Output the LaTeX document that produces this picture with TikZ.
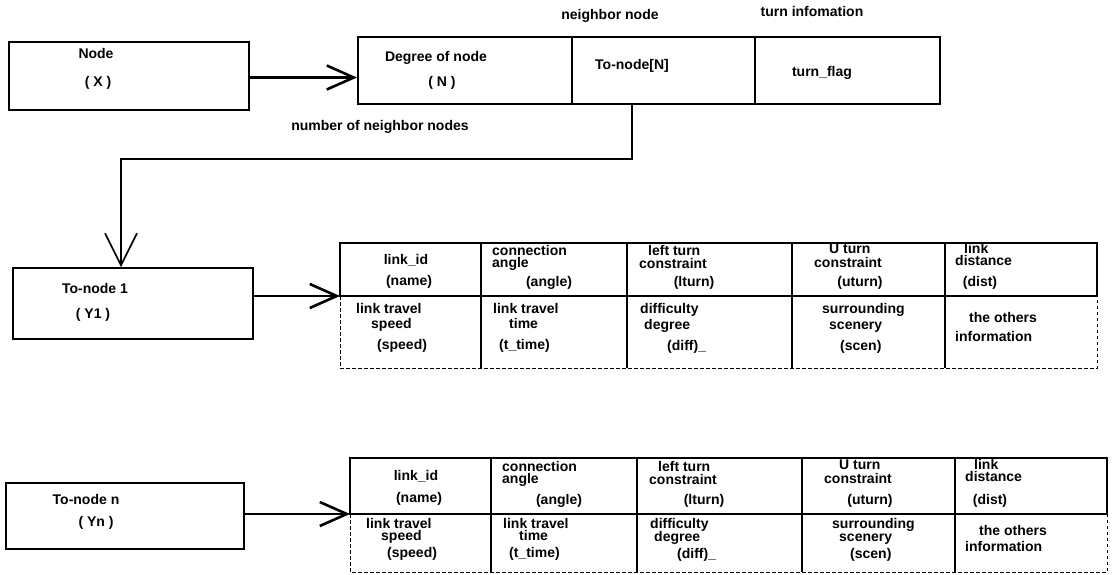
\documentclass[tikz,border=0pt]{standalone}
\usepackage{fontspec}
\setmainfont{Liberation Sans}
\usetikzlibrary{arrows.meta,calc}
\newcommand\LinkTable[5]{%
  % #1 name, #2 left x, #3 top, #4 middle line, #5 bottom
  \pgfmathsetmacro\tbA{#2}\pgfmathsetmacro\tbB{#2+141}%
  \pgfmathsetmacro\tbC{#2+287}\pgfmathsetmacro\tbD{#2+452}%
  \pgfmathsetmacro\tbE{#2+605}\pgfmathsetmacro\tbR{#2+757}%
  \pgfmathsetmacro\tbT{#4-#3}\pgfmathsetmacro\tbH{#5-#4}%
  \coordinate (#1-in) at (\tbA,#4);
  \draw[solidline] (\tbA,#3) rectangle (\tbR,#4);
  \foreach \cx in {\tbB,\tbC,\tbD,\tbE} {\draw[solidline] (\cx,#3) -- (\cx,#5);}
  \draw[dashline] (\tbA,#4) -- (\tbA,#5) -- (\tbR,#5) -- (\tbR,#4);
  \node[ct] (#1-a1) at (\tbA+66,#3+0.36*\tbT) {link\_id};
  \node[ct] (#1-a2) at (\tbA+69,#3+0.755*\tbT) {(name)};
  \node[lt] (#1-b1) at (\tbB+11,#3+0.19*\tbT) {connection};
  \node[lt] (#1-b2) at (\tbB+11,#3+0.415*\tbT) {angle};
  \node[ct] (#1-b3) at (\tbB+68,#3+0.775*\tbT) {(angle)};
  \node[lt] (#1-c1) at (\tbC+21,#3+0.19*\tbT) {left turn};
  \node[lt] (#1-c2) at (\tbC+12,#3+0.43*\tbT) {constraint};
  \node[ct] (#1-c3) at (\tbC+67,#3+0.775*\tbT) {(lturn)};
  \node[lt] (#1-d1) at (\tbD+37,#3+0.155*\tbT) {U turn};
  \node[lt] (#1-d2) at (\tbD+22,#3+0.405*\tbT) {constraint};
  \node[ct] (#1-d3) at (\tbD+68,#3+0.775*\tbT) {(uturn)};
  \node[lt] (#1-e1) at (\tbE+19,#3+0.15*\tbT) {link};
  \node[lt] (#1-e2) at (\tbE+10,#3+0.38*\tbT) {distance};
  \node[ct] (#1-e3) at (\tbE+35,#3+0.775*\tbT) {(dist)};
  \node[lt] (#1-f1) at (\tbA+16,#4+0.20*\tbH) {link travel};
  \node[lt] (#1-f2) at (\tbA+31,#4+0.41*\tbH) {speed};
  \node[lt] (#1-f3) at (\tbA+37,#4+0.71*\tbH) {(speed)};
  \node[lt] (#1-g1) at (\tbB+12,#4+0.20*\tbH) {link travel};
  \node[lt] (#1-g2) at (\tbB+28,#4+0.41*\tbH) {time};
  \node[lt] (#1-g3) at (\tbB+18,#4+0.71*\tbH) {(t\_time)};
  \node[lt] (#1-h1) at (\tbC+13,#4+0.20*\tbH) {difficulty};
  \node[lt] (#1-h2) at (\tbC+17,#4+0.43*\tbH) {degree};
  \node[lt] (#1-h3) at (\tbC+40,#4+0.72*\tbH) {(diff)\_};
  \node[lt] (#1-i1) at (\tbD+30,#4+0.20*\tbH) {surrounding};
  \node[lt] (#1-i2) at (\tbD+37,#4+0.43*\tbH) {scenery};
  \node[lt] (#1-i3) at (\tbD+48,#4+0.72*\tbH) {(scen)};
  \node[lt] (#1-j1) at (\tbE+24,#4+0.33*\tbH) {the others};
  \node[lt] (#1-j2) at (\tbE+10,#4+0.60*\tbH) {information};
}
\begin{document}
\begin{tikzpicture}[x=1pt,y=-1pt,
  txt/.style={font=\bfseries\fontsize{14}{15}\selectfont, inner sep=0pt},
  ct/.style={txt, anchor=mid},
  lt/.style={txt, anchor=mid west},
  box/.style={draw, line width=1.6pt, inner sep=0pt, anchor=north west},
  solidline/.style={line width=1.7pt},
  dashline/.style={line width=0.9pt, dash pattern=on 3.5pt off 2.5pt},
  harrow/.style={line width=2.4pt, -{Straight Barb[length=27pt,width=24pt,line width=2.6pt]}},
  varrow/.style={line width=1.8pt, -{Straight Barb[length=32pt,width=32pt,line width=1.6pt]}}]
\useasboundingbox (0,0) rectangle (1114,574);
\fill[white] (0,0) rectangle (1114,574);

% top row
\node[box, minimum width=240pt, minimum height=68pt] (X) at (8,41) {};
\node[ct] (Xa) at (96,56) {Node};
\node[ct] (Xb) at (98,84) {( X )};

\node[box, minimum width=214pt, minimum height=67pt] (deg) at (357,36) {};
\node[box, minimum width=183pt, minimum height=67pt] (ton) at (571,36) {};
\node[box, minimum width=185pt, minimum height=67pt] (tf) at (754,36) {};
\node[ct] (dega) at (436,59) {Degree of node};
\node[ct] (degb) at (442,84) {( N )};
\node[ct] (tona) at (632,67) {To-node[N]};
\node[ct] (tfa) at (822,74) {turn\_flag};
\node[ct] (lab1) at (610,17) {neighbor node};
\node[ct] (lab2) at (812,14) {turn infomation};
\node[ct] (lab3) at (380,128) {number of neighbor nodes};

\coordinate (a1) at (0,77.5);
\draw[harrow] (X.east |- a1) -- (deg.west |- a1);

% to-node 1
\node[box, minimum width=240pt, minimum height=71pt] (tn1) at (12,267) {};
\node[ct] (tn1a) at (95,291) {To-node 1};
\node[ct] (tn1b) at (93,316) {( Y1 )};

\coordinate (bend) at (121,159);
\draw[varrow] ([xshift=-31.5pt]ton.south) |- (bend) -- (bend |- tn1.north);

\LinkTable{t1}{340}{243}{296}{368}
\draw[harrow] (tn1.east |- t1-in) -- (t1-in);

% to-node n
\node[box, minimum width=238pt, minimum height=66pt] (tnn) at (5,482) {};
\node[ct] (tnna) at (86,502) {To-node n};
\node[ct] (tnnb) at (96,524) {( Yn )};

\LinkTable{t2}{350}{458}{514}{572}
\draw[harrow] (tnn.east |- t2-in) -- (t2-in);
\end{tikzpicture}
\end{document}
